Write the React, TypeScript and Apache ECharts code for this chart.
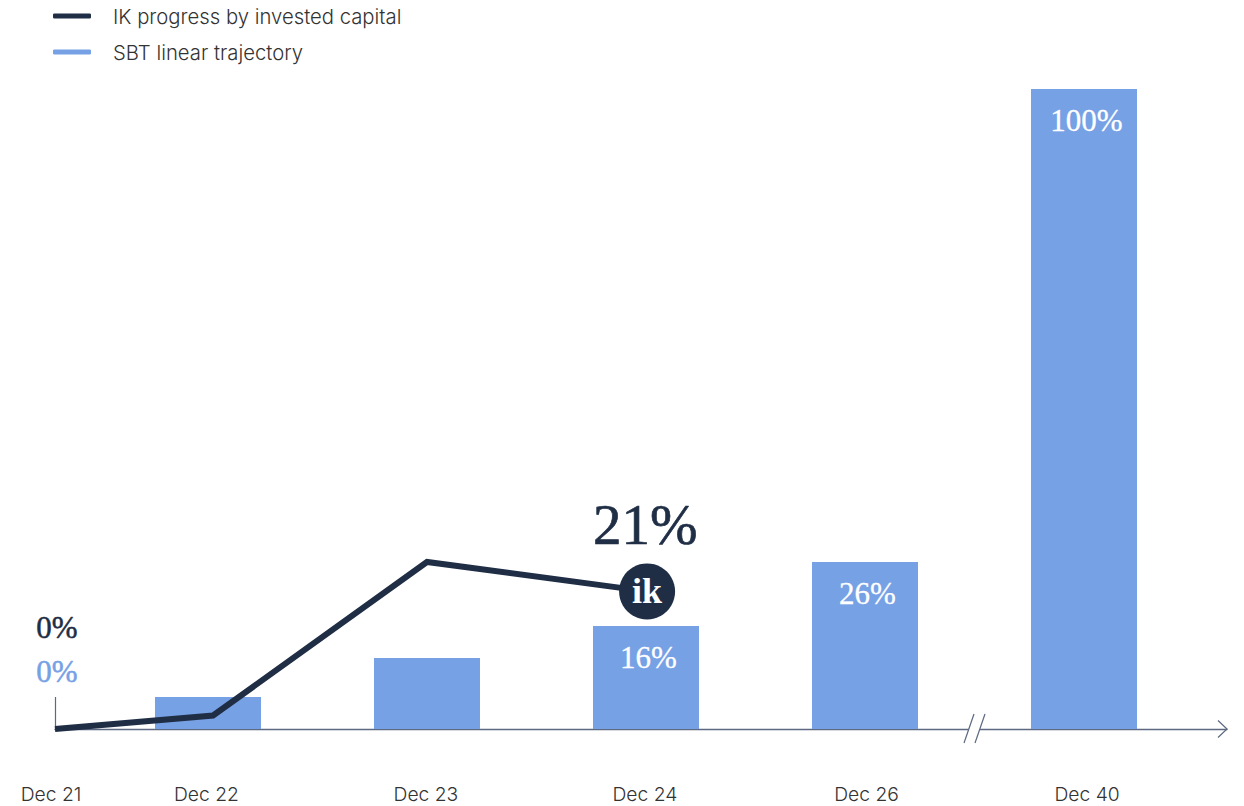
import React, { useEffect, useRef } from "react";
import * as echarts from "echarts";

const tickLabels = ["Dec 21", "Dec 22", "Dec 23", "Dec 24", "Dec 26", "Dec 40"];
const tickPositions = [0.3014, 0.993, 1.995, 2.995, 4.007, 5.014];
const barPositions = [1, 2, 3, 4, 5];
const barValues = [5, 11.1, 16.1, 26.1, 100];
const barLabels = ["", "", "16%", "26%", "100%"];
const linePositions = [0.3014, 1.023, 2, 3.005];
const lineValues = [0, 2.1, 26.1, 21.5];

const DARK = "#1f2e45";
const BLUE = "#76a1e5";
const AXIS = "#5c6980";
const SERIF = "'Liberation Serif', serif";
const SANS = "Inter, sans-serif";
const TEXT = "#333333";

const serifLabel = (text: string, size: number, color: string, border = 0.5) => ({
  show: true,
  position: "inside",
  formatter: text,
  fontFamily: SERIF,
  fontSize: size,
  color,
  textBorderColor: color,
  textBorderWidth: border,
});

export default function App() {
  const ref = useRef<HTMLDivElement>(null);
  useEffect(() => {
    const chart = echarts.init(ref.current!, null, { renderer: "svg" });
    chart.setOption({
      animation: false,
      backgroundColor: "#ffffff",
      grid: { left: 55, right: 17, top: 89, bottom: 77 },
      legend: {
        left: 48,
        top: -1,
        orient: "vertical",
        itemWidth: 38,
        itemHeight: 5,
        itemGap: 12,
        selectedMode: false,
        textStyle: { fontFamily: SANS, fontSize: 20.3, fontWeight: 300, color: TEXT, padding: [0, 0, 0, 17], lineHeight: 24 },
        data: [
          { name: "IK progress by invested capital", icon: "roundRect", itemStyle: { color: DARK } },
          { name: "SBT linear trajectory", icon: "roundRect", itemStyle: { color: BLUE } },
        ],
      },
      xAxis: {
        type: "value",
        min: 0.3014,
        max: 5.653,
        splitLine: { show: false },
        axisTick: { show: false },
        axisLine: { show: true, onZero: true, lineStyle: { color: AXIS, width: 1.3 } },
        axisLabel: {
          show: true,
          customValues: tickPositions,
          margin: 55,
          fontFamily: SANS,
          fontSize: 19.3,
          fontWeight: 300,
          color: TEXT,
          formatter: (v: number) => {
            const i = tickPositions.indexOf(v);
            return i === 0 ? `{first|${tickLabels[0]}}{pad| }` : `{first|${tickLabels[i]}}`;
          },
          rich: {
            first: { fontFamily: SANS, fontSize: 19.3, fontWeight: 300, color: TEXT },
            pad: { width: 8, fontSize: 19 },
          },
        },
      },
      yAxis: { type: "value", min: 0, max: 100, show: false },
      series: [
        {
          name: "SBT linear trajectory",
          type: "bar",
          barWidth: 106,
          itemStyle: { color: BLUE },
          data: barPositions.map((x, i) => ({
            value: [x, barValues[i]],
            label: {
              ...serifLabel(barLabels[i], 31, "#ffffff", 0.3),
              show: barLabels[i] !== "",
              position: "insideTop",
              distance: 16,
              offset: [2.5, 0],
            },
          })),
          z: 2,
        },
        {
          name: "IK progress by invested capital",
          type: "line",
          symbol: "none",
          lineStyle: { color: DARK, width: 6, join: "miter", cap: "butt" },
          itemStyle: { color: DARK },
          data: linePositions.map((x, i) =>
            i === linePositions.length - 1
              ? {
                  value: [x, lineValues[i]],
                  symbol: "circle",
                  symbolSize: 56,
                  label: {
                    show: true,
                    position: "inside",
                    formatter: "{ik|ik}",
                    rich: { ik: { fontFamily: SERIF, fontSize: 36, fontWeight: "bold", color: "#ffffff" } },
                  },
                }
              : { value: [x, lineValues[i]] },
          ),
          z: 3,
        },
        {
          name: "annotations",
          type: "scatter",
          symbol: "circle",
          symbolSize: 1,
          itemStyle: { color: "rgba(0,0,0,0)", opacity: 1 },
          data: [
            { value: [0.31, 15.9], label: serifLabel("0%", 31, DARK) },
            { value: [0.31, 9], label: serifLabel("0%", 31, BLUE) },
            { value: [2.997, 32], label: serifLabel("21%", 57, DARK, 0.7) },
          ],
          z: 4,
        },
      ],
      graphic: [
        { type: "line", shape: { x1: 55.5, y1: 697, x2: 55.5, y2: 729 }, style: { stroke: AXIS, lineWidth: 1.2 }, z: 1 },
        { type: "polyline", shape: { points: [[1218, 720.5], [1227, 729], [1218, 737.5]] }, style: { stroke: AXIS, lineWidth: 1.2, fill: "none" }, z: 5 },
        { type: "rect", shape: { x: 969, y: 726, width: 11, height: 6 }, style: { fill: "#ffffff" }, z: 5 },
        { type: "line", shape: { x1: 964, y1: 743, x2: 974, y2: 714 }, style: { stroke: AXIS, lineWidth: 1.2 }, z: 6 },
        { type: "line", shape: { x1: 975, y1: 743, x2: 985, y2: 714 }, style: { stroke: AXIS, lineWidth: 1.2 }, z: 6 },
      ],
    });
    return () => chart.dispose();
  }, []);
  return <div ref={ref} style={{ position: "fixed", left: 0, top: 0, width: 1244, height: 806 }} />;
}
